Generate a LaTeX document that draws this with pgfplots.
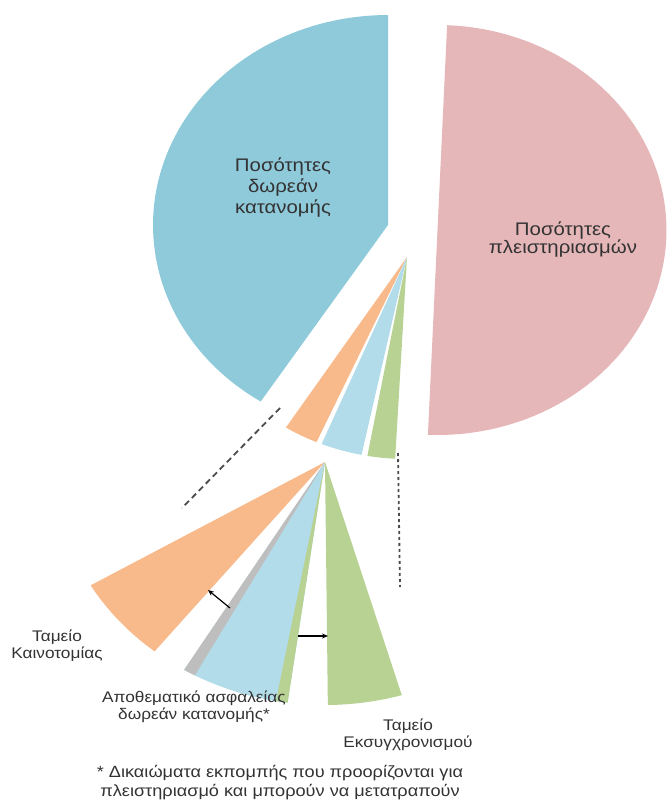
\documentclass[border=0pt]{standalone}
\usepackage{graphicx}
\usepackage{fontspec}
\setmainfont{Liberation Sans}
\usepackage{pgfplots}
\pgfplotsset{compat=1.18}
\usetikzlibrary{arrows.meta}
\definecolor{cPink}{HTML}{E5B7B9}
\definecolor{cBlue}{HTML}{8FCADB}
\definecolor{cOrange}{HTML}{F8B98B}
\definecolor{cLBlue}{HTML}{B3DCEA}
\definecolor{cGreen}{HTML}{B7D292}
\definecolor{cGray}{HTML}{BEBEBE}
\definecolor{cText}{HTML}{333333}
\newcommand{\sx}[1]{\scalebox{1.12}[1]{#1}}
\begin{document}
\begin{tikzpicture}
\begin{axis}[
  width=668pt, height=800pt, scale only axis,
  xmin=0, xmax=668, ymin=0, ymax=800, y dir=reverse,
  hide axis, clip mode=individual,
  every axis plot/.append style={samples=80, variable=\t},
]
% ---- upper pie (slice angles in degrees) ----
% Auctioned quantities (~50%)
\addplot[fill=cPink, draw=none, domain=-92.4:87.6] ({437.5+229*cos(\t)}, {230-205*sin(\t)}) -- (axis cs:437.5,230) -- cycle;
% Free allocation (~41%)
\addplot[fill=cBlue, draw=none, domain=90:237.2] ({388+235*cos(\t)}, {225-210*sin(\t)}) -- (axis cs:388,225) -- cycle;
% Innovation fund
\addplot[fill=cOrange, draw=none, domain=237.6:246.4] ({407+226*cos(\t)}, {257-202*sin(\t)}) -- (axis cs:407,257) -- cycle;
% Reserve
\addplot[fill=cLBlue, draw=none, domain=247.8:258.4] ({407+226*cos(\t)}, {257-202*sin(\t)}) -- (axis cs:407,257) -- cycle;
% Modernisation fund
\addplot[fill=cGreen, draw=none, domain=259.9:267.0] ({407+226*cos(\t)}, {257-202*sin(\t)}) -- (axis cs:407,257) -- cycle;
% ---- lower fan ----
\addplot[fill=cOrange, draw=none, domain=210.5:231.2] ({325+272*cos(\t)}, {462-243*sin(\t)}) -- (axis cs:325,462) -- cycle;
\addplot[fill=cLBlue, draw=none, domain=238.8:262.1] ({325+272*cos(\t)}, {462-243*sin(\t)}) -- (axis cs:325,462) -- cycle;
\addplot[fill=cGray, draw=none, domain=238.8:241.4] ({325+272*cos(\t)}, {462-243*sin(\t)}) -- (axis cs:325,462) -- cycle;
\addplot[fill=cGreen, draw=none, domain=259.6:262.1] ({325+272*cos(\t)}, {462-243*sin(\t)}) -- (axis cs:325,462) -- cycle;
\addplot[fill=cGreen, draw=none, domain=270.6:286.4] ({325+272*cos(\t)}, {462-243*sin(\t)}) -- (axis cs:325,462) -- cycle;
% ---- connectors ----
\addplot[color=black!70, line width=1.8pt, dash pattern=on 6pt off 4pt] coordinates {(280,408) (182,508)};
\addplot[color=black!70, line width=1.8pt, dash pattern=on 3pt off 3pt] coordinates {(398,453) (400,587)};
\draw[-{Stealth[length=6pt,width=5pt]}, line width=1.2pt, black] (axis cs:230,608) -- (axis cs:208,590);
\draw[-{Stealth[length=6pt,width=5pt]}, line width=1.2pt, black] (axis cs:298,636) -- (axis cs:328,636);
% ---- labels ----
\node[align=center, text=cText, font=\fontsize{18.2}{21}\selectfont] at (axis cs:283,188) {\sx{Ποσότητες}\\\sx{δωρεάν}\\\sx{κατανομής}};
\node[align=center, text=cText, font=\fontsize{18.2}{18}\selectfont] at (axis cs:563,240) {\sx{Ποσότητες}\\\sx{πλειστηριασμών}};
\node[align=center, text=cText, font=\fontsize{15.4}{17}\selectfont] at (axis cs:57,646) {\sx{Ταμείο}\\\sx{Καινοτομίας}};
\node[align=center, text=cText, font=\fontsize{15.4}{17}\selectfont] at (axis cs:194,707) {\sx{Αποθεματικό ασφαλείας}\\\sx{δωρεάν κατανομής*}};
\node[align=center, text=cText, font=\fontsize{15.4}{17}\selectfont] at (axis cs:408,735) {\sx{Ταμείο}\\\sx{Εκσυγχρονισμού}};
\node[align=center, text=cText, font=\fontsize{16.2}{19}\selectfont] at (axis cs:280,783) {\sx{* Δικαιώματα εκπομπής που προορίζονται για}\\\sx{πλειστηριασμό και μπορούν να μετατραπούν}};
\end{axis}
\pgfresetboundingbox
\useasboundingbox (current axis.south west) rectangle (current axis.north east);
\end{tikzpicture}
\end{document}
